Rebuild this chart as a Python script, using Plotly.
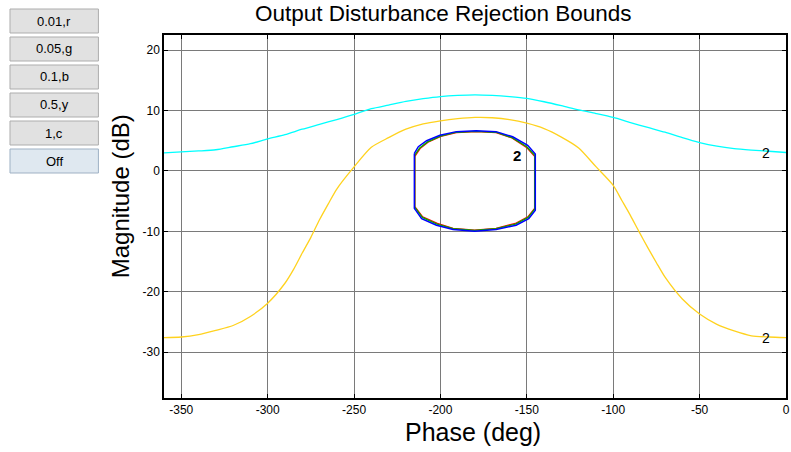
import plotly.graph_objects as go

# ---------------- data ----------------
phase_cyan = [-360, -350, -340, -330, -320, -310, -300, -290, -280, -270, -260, -250, -240, -230,
              -220, -210, -200, -190, -180, -170, -160, -150, -140, -130, -120, -110, -100, -90,
              -80, -70, -60, -50, -40, -30, -20, -10, 0]
mag_cyan = [3.0, 3.15, 3.3, 3.5, 4.0, 4.5, 5.3, 6.0, 6.9, 7.7, 8.5, 9.35, 10.3, 10.9,
            11.5, 11.95, 12.3, 12.5, 12.6, 12.5, 12.3, 12.0, 11.45, 10.8, 10.1, 9.5, 8.85, 8.0,
            7.2, 6.4, 5.5, 4.7, 4.1, 3.7, 3.45, 3.25, 3.05]

phase_yellow = [-360, -350, -340, -330, -320, -310, -300, -290, -285, -280, -275, -270, -265, -260,
                -250, -240, -230, -220, -210, -200, -190, -180, -170, -160, -150, -140, -130,
                -120, -110, -100, -95, -90, -85, -80, -75, -70, -60, -50, -40, -30, -20, -10, 0]
mag_yellow = [-27.6, -27.5, -27.1, -26.4, -25.6, -24.1, -21.9, -18.6, -16.3, -13.6, -11.0, -8.1, -5.5, -3.0,
              0.66, 3.9, 5.5, 6.9, 7.8, 8.3, 8.65, 8.85, 8.8, 8.5, 7.9, 7.0, 5.6,
              3.8, 0.7, -2.4, -4.9, -7.4, -10.1, -12.7, -15.2, -17.6, -21.2, -23.7, -25.4, -26.5, -27.3, -27.5, -27.6]

# closed bound contours (0.01 r, 0.05 g, 0.1 b)
phase_blue = [-215.1, -212.8, -208.0, -200.3, -190.8, -179.3, -167.8, -158.2, -149.5, -145.1,
              -145.1, -148.9, -156.2, -167.8, -180.2, -192.7, -202.3, -210.9, -215.1, -215.1]
mag_blue = [2.9, 4.0, 5.0, 5.9, 6.5, 6.65, 6.5, 5.65, 4.25, 2.8,
            -6.5, -7.9, -9.0, -9.7, -10.0, -9.7, -9.0, -7.9, -6.2, 2.9]

phase_green = [-214.9, -212.0, -207.5, -200.0, -190.8, -179.3, -167.8, -158.5, -150.0, -145.4,
               -145.4, -149.2, -156.5, -167.8, -180.2, -192.7, -202.0, -210.5, -214.9, -214.9]
mag_green = [2.6, 3.8, 4.8, 5.75, 6.4, 6.55, 6.4, 5.5, 4.0, 2.6,
             -6.3, -7.7, -8.8, -9.55, -9.85, -9.55, -8.8, -7.7, -6.0, 2.6]

phase_red = [-214.8, -211.8, -207.2, -199.8, -190.8, -179.3, -167.8, -158.6, -150.2, -145.5,
             -145.5, -149.4, -156.7, -167.8, -180.2, -192.7, -201.8, -210.3, -214.8, -214.8]
mag_red = [2.4, 3.7, 4.75, 5.7, 6.35, 6.5, 6.35, 5.45, 3.9, 2.4,
           -6.2, -7.6, -8.7, -9.5, -9.8, -9.5, -8.7, -7.6, -5.9, 2.4]

x_ticks = [-350, -300, -250, -200, -150, -100, -50, 0]
x_ticklabels = ["-350", "-300", "-250", "-200", "-150", "-100", "-50", "0"]
y_ticks = [-30, -20, -10, 0, 10, 20]
y_ticklabels = ["-30", "-20", "-10", "0", "10", "20"]
buttons = ["0.01,r", "0.05,g", "0.1,b", "0.5,y", "1,c", "Off"]

# ---------------- figure ----------------
W, H = 791, 452
ML, MR, MT, MB = 164, 1, 35, 54
PW, PH = W - ML - MR, H - MT - MB
FONT = "Liberation Sans, Arial, Helvetica, sans-serif"

fig = go.Figure()
fig.add_trace(go.Scatter(x=phase_cyan, y=mag_cyan, mode="lines",
                         line=dict(color="#00ffff", width=1.3, shape="spline", smoothing=0.7),
                         showlegend=False))
fig.add_trace(go.Scatter(x=phase_yellow, y=mag_yellow, mode="lines",
                         line=dict(color="#ffd21e", width=1.3, shape="spline", smoothing=0.7),
                         showlegend=False))
fig.add_trace(go.Scatter(x=phase_red, y=mag_red, mode="lines",
                         line=dict(color="#ff0000", width=1.3), showlegend=False))
fig.add_trace(go.Scatter(x=phase_green, y=mag_green, mode="lines",
                         line=dict(color="#00b000", width=1.3), showlegend=False))
fig.add_trace(go.Scatter(x=phase_blue, y=mag_blue, mode="lines",
                         line=dict(color="#0000ff", width=1.5), showlegend=False))

# contour labels "2"
fig.add_annotation(x=-11.5, y=2.9, text="2", showarrow=False,
                   font=dict(family=FONT, size=14, color="black"))
fig.add_annotation(x=-11.5, y=-27.7, text="2", showarrow=False,
                   font=dict(family=FONT, size=14, color="black"))
fig.add_annotation(x=-155.8, y=2.6, text="<b>2</b>", showarrow=False,
                   font=dict(family=FONT, size=15, color="black"))


def px2x(px):
    return (px - ML) / PW


def py2y(py):
    return (H - MB - py) / PH


# buttons on the left
tops = [9, 37, 65, 93, 121, 149]
for lab, t in zip(buttons, tops):
    off = (lab == "Off")
    fig.add_shape(type="rect", xref="paper", yref="paper",
                  x0=px2x(9), x1=px2x(98), y0=py2y(t), y1=py2y(t + 24),
                  fillcolor="#dfe8f0" if off else "#e1e1e1",
                  line=dict(color="#9fb1c4" if off else "#adadad", width=1),
                  layer="above")
    fig.add_annotation(xref="paper", yref="paper", x=px2x(53.5), y=py2y(t + 12),
                       xanchor="center", yanchor="middle",
                       text=lab, showarrow=False,
                       font=dict(family=FONT, size=13, color="black"))

# axis titles and chart title as positioned text
fig.add_annotation(xref="paper", yref="paper", x=px2x(120), y=py2y(196),
                   xanchor="center", yanchor="middle", textangle=-90,
                   text="Magnitude (dB)", showarrow=False,
                   font=dict(family=FONT, size=24, color="black"))
fig.add_annotation(xref="paper", yref="paper", x=px2x(475), y=py2y(432),
                   xanchor="center", yanchor="middle",
                   text="Phase (deg)", showarrow=False,
                   font=dict(family=FONT, size=25, color="black"))
fig.add_annotation(xref="paper", yref="paper", x=px2x(445), y=py2y(14),
                   xanchor="center", yanchor="middle",
                   text="Output Disturbance Rejection Bounds", showarrow=False,
                   font=dict(family=FONT, size=22.5, color="black"))

axis_common = dict(showline=True, linecolor="black", linewidth=1.5, mirror="ticks",
                   ticks="inside", ticklen=4, tickcolor="black",
                   showgrid=True, gridcolor="#7a7a7a", gridwidth=1, zeroline=False,
                   ticklabeloverflow="allow",
                   tickfont=dict(family=FONT, size=12, color="black"))

fig.update_xaxes(range=[-360, 0], tickvals=x_ticks, ticktext=x_ticklabels, **axis_common)
fig.update_yaxes(range=[-37.6, 22.5], tickvals=y_ticks, ticktext=y_ticklabels, **axis_common)

fig.update_layout(
    width=W, height=H, autosize=False,
    margin=dict(l=ML, r=MR, t=MT, b=MB),
    paper_bgcolor="white", plot_bgcolor="white",
)

fig.write_html("out.html")
